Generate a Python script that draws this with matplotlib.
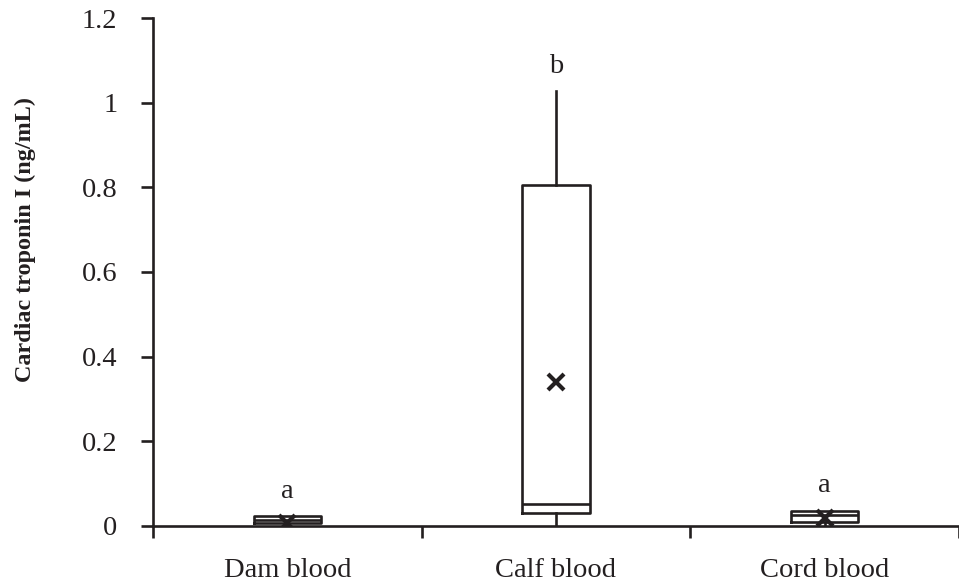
import matplotlib
matplotlib.use("Agg")
import matplotlib.pyplot as plt

plt.rcParams['font.family'] = ['Liberation Serif', 'DejaVu Serif']

ink = '#231f20'

groups = ['Dam blood', 'Calf blood', 'Cord blood']
whisker_low = [0.0, 0.0, 0.0]
q1 = [0.008, 0.031, 0.010]
medians = [0.014, 0.052, 0.027]
q3 = [0.023, 0.806, 0.035]
whisker_high = [0.023, 1.028, 0.035]
means = [0.008, 0.340, 0.020]
letters = ['a', 'b', 'a']
letter_y = [0.067, 1.070, 0.080]

stats = []
for i in range(len(groups)):
    stats.append({'label': groups[i], 'whislo': whisker_low[i], 'q1': q1[i],
                  'med': medians[i], 'q3': q3[i], 'whishi': whisker_high[i],
                  'mean': means[i]})

fig = plt.figure(figsize=(9.59, 5.85), dpi=100)
ax = fig.add_axes([0.1595, 0.1009, 0.8405, 0.8683])

pos = [0.5, 1.5, 2.5]
lw = 1.9
fs = 20.5
ax.bxp(stats, positions=pos, widths=0.25, showcaps=False, showfliers=False,
       showmeans=True, patch_artist=False,
       boxprops=dict(color=ink, linewidth=lw),
       whiskerprops=dict(color=ink, linewidth=lw),
       medianprops=dict(color=ink, linewidth=lw),
       meanprops=dict(marker='x', markeredgecolor=ink, markersize=12,
                      markeredgewidth=3),
       zorder=3)

for p, t, y in zip(pos, letters, letter_y):
    ax.text(p, y, t, ha='center', va='baseline', fontsize=fs, color=ink)

ax.set_xlim(0, 3)
ax.set_ylim(0, 1.2)
ax.set_yticks([0, 0.2, 0.4, 0.6, 0.8, 1.0, 1.2])
ax.set_yticklabels(['0', '0.2', '0.4', '0.6', '0.8', '1', '1.2'])
ax.set_xticks([0, 1, 2, 3])
ax.set_xticklabels([])
ax.set_xticks(pos, minor=True)
ax.set_xticklabels(groups, minor=True)
ax.tick_params(axis='x', which='minor', length=0, pad=23, labelsize=fs,
               colors=ink)
ax.tick_params(axis='x', which='major', length=8.5, width=lw, color=ink,
               direction='out')
ax.tick_params(axis='y', length=8.5, width=lw, color=ink, labelsize=fs,
               labelcolor=ink, pad=17)

for s in ['top', 'right']:
    ax.spines[s].set_visible(False)
for s in ['left', 'bottom']:
    ax.spines[s].set_linewidth(lw)
    ax.spines[s].set_color(ink)
ax.spines['bottom'].set_zorder(4)

ax.set_ylabel('Cardiac troponin I (ng/mL)', fontsize=17.4, fontweight='bold',
              color=ink)
ax.yaxis.set_label_coords(-0.145, 0.563)

fig.savefig('out.png', dpi=100)
